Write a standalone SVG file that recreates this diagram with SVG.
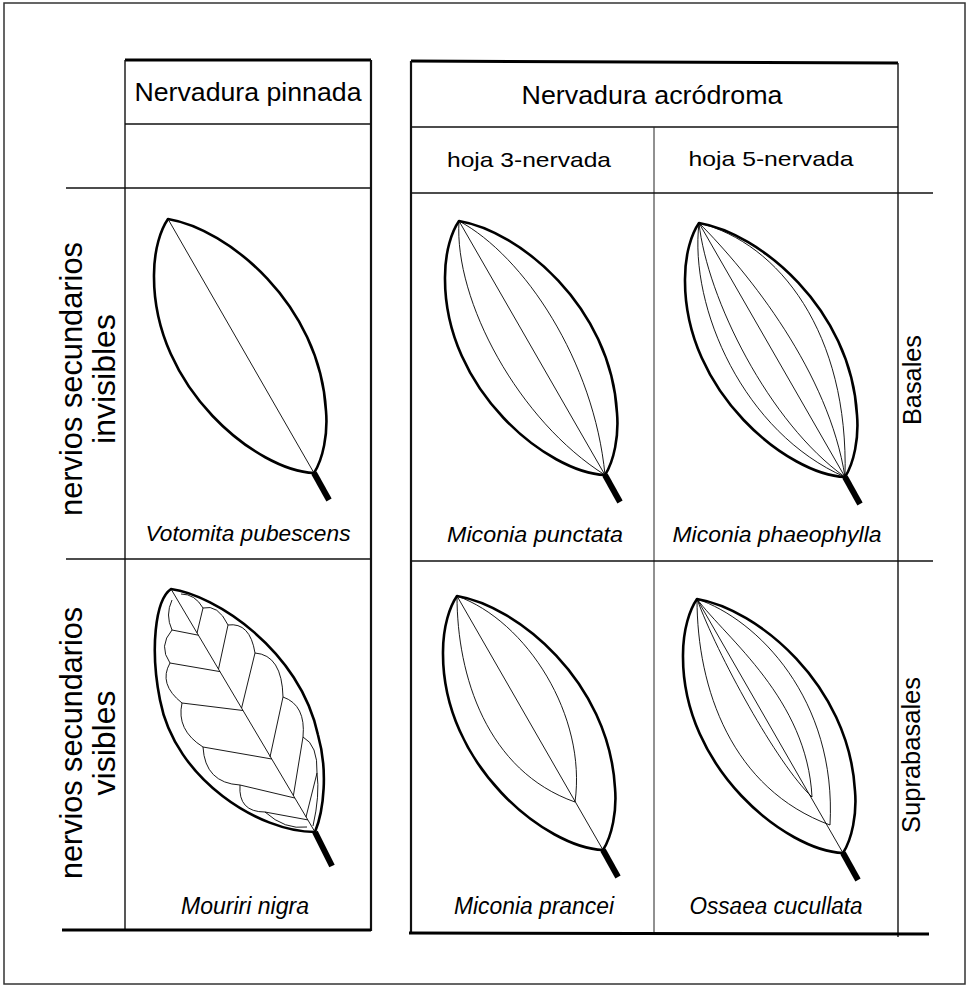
<svg xmlns="http://www.w3.org/2000/svg" xmlns:xlink="http://www.w3.org/1999/xlink" width="968" height="986" viewBox="0 0 968 986">
  <style>
    .frame { fill: none; stroke: #333; stroke-width: 1.5; }
    .rule { fill: none; stroke: #111; stroke-width: 1.4; }
    .rule-med { fill: none; stroke: #111; stroke-width: 2.2; }
    .rule-thick { fill: none; stroke: #000; stroke-width: 3; }
    .rule-thin { fill: none; stroke: #222; stroke-width: 1; }
    .blade { fill: none; stroke: #000; stroke-width: 2.6; stroke-linejoin: round; }
    .vein { fill: none; stroke: #000; stroke-width: 0.9; }
    .petiole { fill: none; stroke: #000; stroke-width: 6; }
    .head { font-family: "Liberation Sans", Arial, sans-serif; font-size: 25px; fill: #000; text-anchor: middle; }
    .sub { font-family: "Liberation Sans", Arial, sans-serif; font-size: 21px; fill: #000; text-anchor: middle; }
    .species { font-family: "Liberation Sans", Arial, sans-serif; font-size: 22px; font-style: italic; fill: #000; text-anchor: middle; }
    .species-narrow { font-family: "Liberation Sans", Arial, sans-serif; font-size: 23px; font-style: italic; fill: #000; text-anchor: middle; }
    .side { font-family: "Liberation Sans", Arial, sans-serif; font-size: 32px; fill: #000; text-anchor: middle; }
    .row { font-family: "Liberation Sans", Arial, sans-serif; font-size: 25px; fill: #000; text-anchor: middle; }
  </style>
  <defs>
    <!-- generic elliptic blade, apex at the origin, base at (146,254) -->
    <path id="blade" class="blade" d="M0,0 C60,10 152,85 158,192 C160,215 155,240 146,254 C90,252 -15,170 -14,56 C-14,30 -7,10 0,0 Z"/>
    <path id="midrib" class="vein" d="M0,0 L146,254"/>
    <path id="stalk" class="petiole" d="M146,254 L161,281"/>
  </defs>

  <rect class="frame" x="4" y="3" width="961" height="981"/>

  <!-- table rules -->
  <g id="connectors">
    <!-- pinnate column -->
    <path class="rule-thick" d="M125,60 H371"/>
    <path class="rule" d="M125,60 V930"/>
    <path class="rule-med" d="M371,60 V931"/>
    <path class="rule" d="M125,124 H371"/>
    <path class="rule" d="M66,188 H371"/>
    <path class="rule" d="M66,559 H371"/>
    <path class="rule-thick" d="M62,930 H371"/>
    <!-- acrodromous columns -->
    <path class="rule-thick" d="M411,61 L898,63"/>
    <path class="rule-med" d="M411,61 V934"/>
    <path class="rule" d="M898,63 V937"/>
    <path class="rule" d="M411,127 H898"/>
    <path class="rule-thin" d="M654,127 V934"/>
    <path class="rule" d="M411,193 H933"/>
    <path class="rule" d="M411,561 H933"/>
    <path class="rule-thick" d="M409,933 L929,934"/>
  </g>

  <!-- column headings -->
  <g id="head-pinnada">
    <text class="head" x="248" y="101" textLength="227" lengthAdjust="spacingAndGlyphs">Nervadura pinnada</text>
  </g>
  <g id="head-acrodroma">
    <text class="head" x="652" y="104" textLength="261" lengthAdjust="spacingAndGlyphs">Nervadura acródroma</text>
  </g>
  <g id="head-3-nervada">
    <text class="sub" x="529" y="167" textLength="164" lengthAdjust="spacingAndGlyphs">hoja 3-nervada</text>
  </g>
  <g id="head-5-nervada">
    <text class="sub" x="771" y="166" textLength="165" lengthAdjust="spacingAndGlyphs">hoja 5-nervada</text>
  </g>

  <!-- row headings -->
  <g id="row-invisibles">
    <text class="side" transform="translate(82,379) rotate(-90)" x="0" y="0" textLength="274" lengthAdjust="spacingAndGlyphs">nervios secundarios</text>
    <text class="side" transform="translate(115,379) rotate(-90)" x="0" y="0">invisibles</text>
  </g>
  <g id="row-visibles">
    <text class="side" transform="translate(82,743) rotate(-90)" x="0" y="0" textLength="272" lengthAdjust="spacingAndGlyphs">nervios secundarios</text>
    <text class="side" transform="translate(115,743) rotate(-90)" x="0" y="0">visibles</text>
  </g>
  <g id="row-basales">
    <text class="row" transform="translate(921,380) rotate(-90)" x="0" y="0" textLength="90" lengthAdjust="spacingAndGlyphs">Basales</text>
  </g>
  <g id="row-suprabasales">
    <text class="row" transform="translate(920,755) rotate(-90)" x="0" y="0" textLength="156" lengthAdjust="spacingAndGlyphs">Suprabasales</text>
  </g>

  <!-- Votomita pubescens: midrib only -->
  <g id="leaf-votomita">
    <g transform="translate(168,219)">
      <use xlink:href="#blade"/>
      <use xlink:href="#midrib"/>
      <use xlink:href="#stalk"/>
    </g>
    <text class="species" x="248" y="541" textLength="205" lengthAdjust="spacingAndGlyphs">Votomita pubescens</text>
  </g>

  <!-- Miconia punctata: three basal nerves -->
  <g id="leaf-punctata">
    <g transform="translate(459,221)">
      <use xlink:href="#blade"/>
      <use xlink:href="#midrib"/>
      <path class="vein" d="M0,0 C65,35 135,140 146,254"/>
      <path class="vein" d="M0,0 C-5,80 60,200 146,254"/>
      <use xlink:href="#stalk"/>
    </g>
    <text class="species" x="535" y="542" textLength="176" lengthAdjust="spacingAndGlyphs">Miconia punctata</text>
  </g>

  <!-- Miconia phaeophylla: five basal nerves -->
  <g id="leaf-phaeophylla">
    <g transform="translate(699,223)">
      <use xlink:href="#blade"/>
      <use xlink:href="#midrib"/>
      <path class="vein" d="M0,0 C-10,85 45,210 146,254"/>
      <path class="vein" d="M0,0 C8,75 70,200 146,254"/>
      <path class="vein" d="M0,0 C50,50 130,150 146,254"/>
      <path class="vein" d="M0,0 C80,20 150,110 146,254"/>
      <use xlink:href="#stalk"/>
    </g>
    <text class="species" x="777" y="542" textLength="209" lengthAdjust="spacingAndGlyphs">Miconia phaeophylla</text>
  </g>

  <!-- Mouriri nigra: pinnate, brochidodromous secondaries -->
  <g id="leaf-mouriri">
    <path class="blade" d="M171,589 C215,595 300,650 318,735 C328,770 324,810 315,832 C260,832 175,780 160,700 C150,650 155,600 171,589 Z"/>
    <path class="vein" d="M171,589 L315,832"/>
    <!-- secondaries toward the left margin -->
    <path class="vein" d="M198.4,635.2 L172,630 M220,671.6 L170,663 M243,710.5 L182,703 M271.8,759 L203,747 M294.8,798 L240,785 M307.8,819.9 L265,812"/>
    <!-- secondaries toward the right margin -->
    <path class="vein" d="M197,633 L203,608 M218.5,669 L228,625 M241.6,708 L255,653 M270,757 L283,697 M293.4,795.6 L303,737 M306,817 L317,773"/>
    <!-- marginal loops -->
    <path class="vein" d="M172,600 Q165,615 172,630 Q158,646 170,663 Q158,684 182,703 Q176,730 203,747 Q205,783 240,785 Q238,812 265,812 Q285,830 307,827"/>
    <path class="vein" d="M181,594 Q195,594 203,608 Q218,604 228,625 Q250,622 255,653 Q282,655 283,697 Q306,705 303,737 Q318,745 317,773 Q320,795 313,826"/>
    <path class="petiole" d="M315,832 L332,866"/>
    <text class="species-narrow" x="245" y="914" textLength="128" lengthAdjust="spacingAndGlyphs">Mouriri nigra</text>
  </g>

  <!-- Miconia prancei: three suprabasal nerves -->
  <g id="leaf-prancei">
    <g transform="translate(457,596)">
      <use xlink:href="#blade"/>
      <use xlink:href="#midrib"/>
      <path class="vein" d="M0,0 C0,80 30,175 118,206"/>
      <path class="vein" d="M0,0 C70,25 130,120 118,206"/>
      <use xlink:href="#stalk"/>
    </g>
    <text class="species-narrow" x="534" y="914" textLength="160" lengthAdjust="spacingAndGlyphs">Miconia prancei</text>
  </g>

  <!-- Ossaea cucullata: five suprabasal nerves -->
  <g id="leaf-ossaea">
    <g transform="translate(697,599)">
      <use xlink:href="#blade"/>
      <use xlink:href="#midrib"/>
      <path class="vein" d="M0,0 C0,90 35,190 133,226"/>
      <path class="vein" d="M0,0 C20,55 80,165 115,198"/>
      <path class="vein" d="M0,0 C30,40 110,100 115,198"/>
      <path class="vein" d="M0,0 C60,20 140,100 133,226"/>
      <use xlink:href="#stalk"/>
    </g>
    <text class="species-narrow" x="776" y="914" textLength="173" lengthAdjust="spacingAndGlyphs">Ossaea cucullata</text>
  </g>
</svg>
